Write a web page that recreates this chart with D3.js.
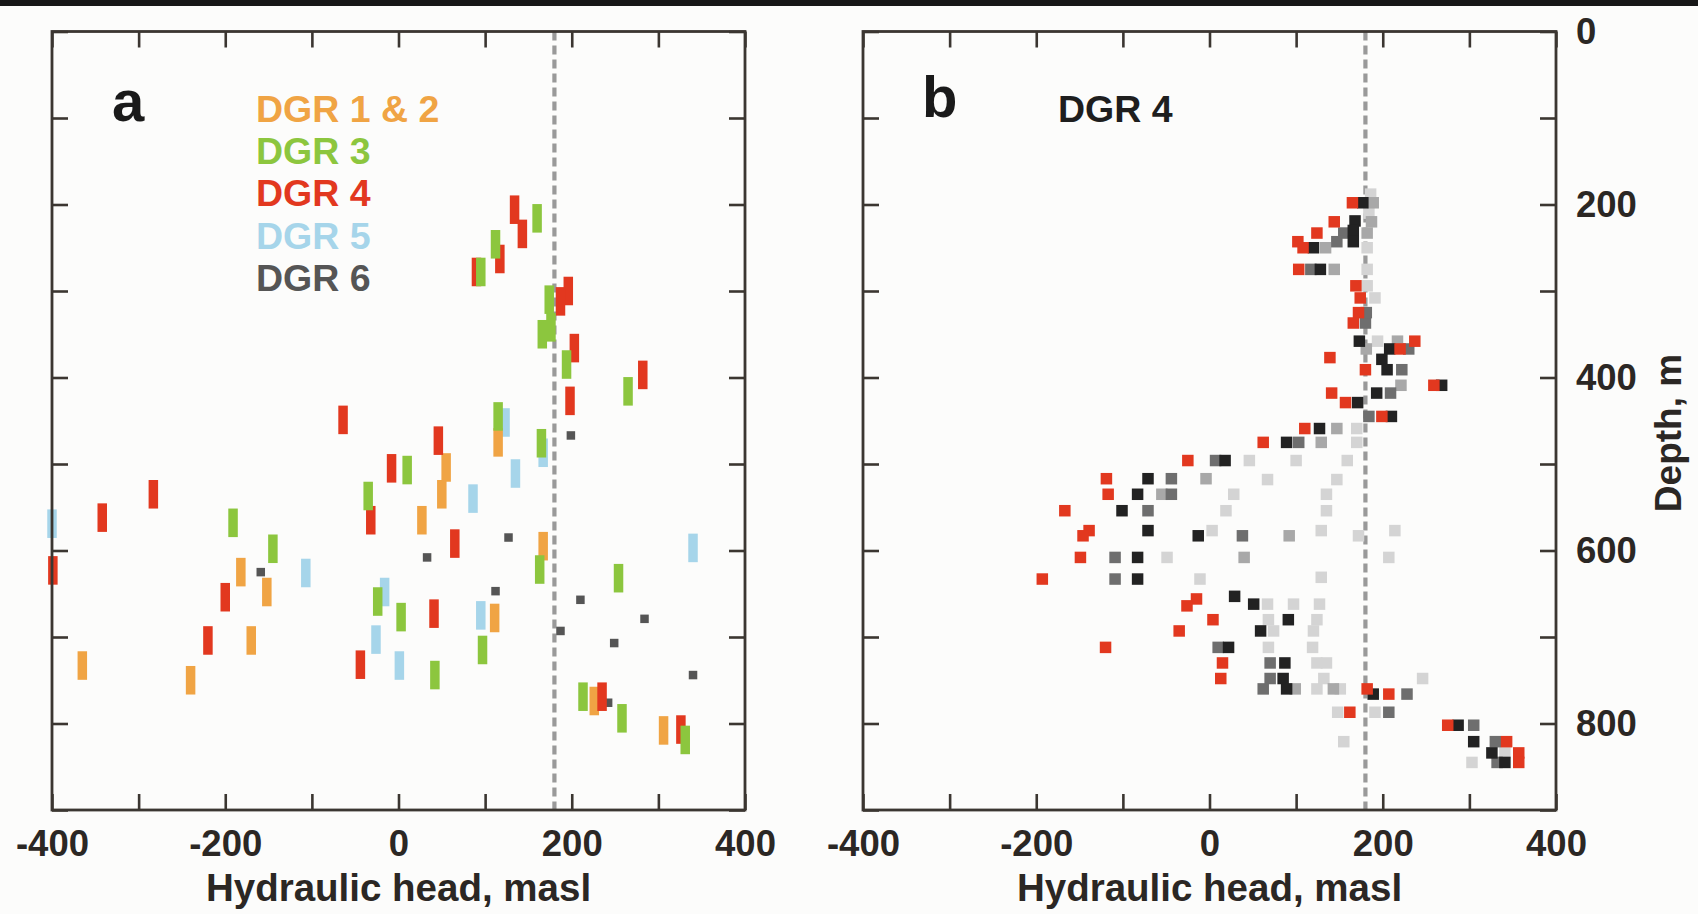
<!DOCTYPE html>
<html>
<head>
<meta charset="utf-8">
<script src="https://cdn.jsdelivr.net/npm/d3@7"></script>
<style>
  html, body { margin: 0; padding: 0; background: #fcfcfb; }
  svg { display: block; }
  text { font-family: "Liberation Sans", Arial, Helvetica, sans-serif; font-weight: bold; }
</style>
</head>
<body>
<svg id="chart" width="1698" height="914"></svg>
<script>
// ---- Panel a: packer test intervals, [hydraulic head (masl), depth (m)] ----
const dgr12 = [[-365,733],[-240,750],[-182,625],[-152,648],[-170,704],[27,565],[50,535],[55,504],
  [115,475],[111,678],[167,595],[226,774],[306,808]];
const dgr3 = [[160,216],[112,246],[95,278],[174,310],[166,350],[176,342],[194,385],[265,416],
  [115,445],[165,476],[10,507],[-35,537],[-191,568],[-145,598],[-24,659],[3,677],[97,715],
  [42,744],[163,622],[254,632],[213,769],[258,794],[331,819]];
const dgr4 = [[134,206],[143,234],[117,263],[90,278],[196,300],[187,312],[203,366],[282,397],
  [198,427],[-64,449],[46,473],[-8,505],[-283,535],[-342,562],[-32,565],[65,592],[-399,623],
  [-200,654],[41,673],[-220,704],[-44,732],[235,769],[326,807]];
const dgr5 = [[-400,569],[-107,626],[-16,648],[-26,703],[1,733],[95,675],[86,540],[135,511],
  [340,597],[123,452],[167,487]];
const dgr6 = [[199,467],[127,585],[33,608],[-159,625],[112,647],[210,657],[284,679],[187,693],
  [249,707],[340,744],[242,776]];

// ---- Panel b: DGR 4 heads from successive monitoring snapshots ----
const b4Red = [[165,198],[144,220],[124,233],[102,243],[108,250],[103,275],[169,294],[174,308],
  [172,325],[166,337],[237,358],[220,367],[139,377],[180,391],[259,409],[141,418],[157,429],
  [199,445],[110,459],[62,475],[-25,496],[-119,517],[-117,535],[-167,554],[-139,577],[-146,583],
  [-149,608],[-193,633],[-15,656],[-26,664],[4,680],[-35,693],[-120,712],[15,730],[13,748],
  [182,760],[207,766],[162,787],[275,802],[343,821],[357,834],[357,845]];
const b4Black = [[177,198],[168,219],[166,230],[166,243],[120,250],[128,275],[173,358],[208,367],
  [199,379],[205,391],[268,409],[193,418],[171,429],[210,445],[127,459],[89,475],[18,496],
  [-71,517],[-83,535],[-101,554],[-71,577],[-13,583],[-83,608],[-83,633],[29,653],[51,662],
  [91,680],[59,693],[22,712],[87,730],[85,748],[89,760],[189,766],[287,802],[305,821],[326,834],
  [341,845]];
const b4Dark = [[155,233],[147,243],[117,275],[180,337],[230,367],[222,391],[209,418],[184,445],
  [7,496],[-44,517],[-44,535],[-71,554],[38,583],[-109,608],[-109,633],[10,712],[70,730],
  [70,748],[62,760],[228,766],[207,787],[305,802],[330,821],[332,845],[181,325],[103,475]];
const b4Light = [[189,198],[187,220],[134,250],[144,275],[217,358],[181,367],[221,409],[147,459],
  [129,475],[-55,535],[-4,517],[92,583],[143,760],[99,760],[182,233],[40,608]];
const b4Pale = [[182,250],[182,275],[182,294],[191,308],[194,358],[170,459],[170,475],[46,496],
  [100,496],[159,496],[67,518],[147,518],[28,535],[135,535],[19,554],[135,554],[3,577],[129,577],
  [172,583],[214,577],[-49,608],[207,608],[-11,633],[129,631],[67,662],[97,662],[127,662],
  [68,680],[124,680],[74,693],[120,693],[68,712],[119,712],[124,730],[135,730],[132,748],
  [246,748],[124,760],[151,760],[148,787],[191,787],[155,821],[303,845],[341,834],[186,188],[184,210]];

// Axis settings
const headDomain = [-400, 400];
const depthDomain = [0, 900];
const headTicks = [-400, -300, -200, -100, 0, 100, 200, 300, 400];
const depthTicks = [0, 100, 200, 300, 400, 500, 600, 700, 800, 900];
const refHead = 180;   // reference head (dashed line)

const legendItems = [
  { label: "DGR 1 & 2", color: "#F0A444" },
  { label: "DGR 3", color: "#8CC63E" },
  { label: "DGR 4", color: "#E2381F" },
  { label: "DGR 5", color: "#A6D5EA" },
  { label: "DGR 6", color: "#555555" }
];

const svg = d3.select("#chart");
const W = 1698, H = 914;
const axisColor = "#3b3631";

svg.append("rect").attr("x", 0).attr("y", 0).attr("width", W).attr("height", H).attr("fill", "#fcfcfb");
svg.append("rect").attr("x", 0).attr("y", 0).attr("width", W).attr("height", 6).attr("fill", "#171717");

const plotTop = 31.5, plotBottom = 810;
const y = d3.scaleLinear().domain(depthDomain).range([plotTop, plotBottom]);
const xA = d3.scaleLinear().domain(headDomain).range([52, 745]);
const xB = d3.scaleLinear().domain(headDomain).range([863, 1556]);

const fmtHead = d => (d % 200 === 0 ? String(d) : "");

function refLine(g, x) {
  // dashed reference head
  g.append("line")
    .attr("x1", x(refHead)).attr("x2", x(refHead))
    .attr("y1", plotTop).attr("y2", plotBottom)
    .attr("stroke", "#999999").attr("stroke-width", 4.2)
    .attr("stroke-dasharray", "9,5");
}

function axes(g, x, rightLabels) {
  const tick = 16;
  const bx = g.append("g").attr("transform", `translate(0,${plotBottom})`)
    .call(d3.axisBottom(x).tickValues(headTicks).tickSize(-tick).tickPadding(20).tickFormat(fmtHead));
  const tx = g.append("g").attr("transform", `translate(0,${plotTop})`)
    .call(d3.axisTop(x).tickValues(headTicks).tickSize(-tick).tickFormat(""));
  const ly = g.append("g").attr("transform", `translate(${x.range()[0]},0)`)
    .call(d3.axisLeft(y).tickValues(depthTicks).tickSize(-tick).tickFormat(""));
  const ry = g.append("g").attr("transform", `translate(${x.range()[1]},0)`)
    .call(d3.axisRight(y).tickValues(depthTicks).tickSize(-tick).tickPadding(20)
      .tickFormat(d => (rightLabels && d % 200 === 0 && d < 900 ? String(d) : "")));
  [bx, tx, ly, ry].forEach(a => {
    a.select(".domain").remove();
    a.selectAll(".tick line").attr("stroke", axisColor).attr("stroke-width", 2.6);
    a.selectAll(".tick text").attr("fill", "#2b2724").attr("font-size", 36.5)
      .attr("font-family", "'Liberation Sans', Arial, sans-serif").attr("font-weight", "bold");
  });
  g.append("rect")
    .attr("x", x.range()[0]).attr("y", plotTop)
    .attr("width", x.range()[1] - x.range()[0]).attr("height", plotBottom - plotTop)
    .attr("fill", "none").attr("stroke", axisColor).attr("stroke-width", 2.8);
  g.append("text")
    .attr("x", (x.range()[0] + x.range()[1]) / 2).attr("y", 901)
    .attr("text-anchor", "middle").attr("font-size", 38.5).attr("fill", "#2b2724")
    .text("Hydraulic head, masl");
}

// ---------------- Panel a ----------------
const gA = svg.append("g");
refLine(gA, xA);

const intervalLen = 33;   // m, vertical extent of a test interval marker
const barW = 9.5;
function bars(data, color) {
  gA.append("g").selectAll("rect").data(data).join("rect")
    .attr("x", d => xA(d[0]) - barW / 2)
    .attr("y", d => y(d[1] - intervalLen / 2))
    .attr("width", barW)
    .attr("height", d => y(d[1] + intervalLen / 2) - y(d[1] - intervalLen / 2))
    .attr("fill", color);
}
const sqA = 8.5;
gA.append("g").selectAll("rect").data(dgr6).join("rect")
  .attr("x", d => xA(d[0]) - sqA / 2).attr("y", d => y(d[1]) - sqA / 2)
  .attr("width", sqA).attr("height", sqA).attr("fill", legendItems[4].color);
bars(dgr5, legendItems[3].color);
bars(dgr12, legendItems[0].color);
bars(dgr4, legendItems[2].color);
bars(dgr3, legendItems[1].color);

axes(gA, xA, false);

gA.append("text").attr("x", 112).attr("y", 121).attr("font-size", 58).attr("fill", "#1a1a1a").text("a");
gA.append("g").selectAll("text").data(legendItems).join("text")
  .attr("x", 256).attr("y", (d, i) => 122 + i * 42.2)
  .attr("font-size", 37.5).attr("fill", d => d.color)
  .text(d => d.label);

// ---------------- Panel b ----------------
const gB = svg.append("g");
refLine(gB, xB);
const sqB = 11.5;
function squares(data, color) {
  gB.append("g").selectAll("rect").data(data).join("rect")
    .attr("x", d => xB(d[0]) - sqB / 2).attr("y", d => y(d[1]) - sqB / 2)
    .attr("width", sqB).attr("height", sqB).attr("fill", color);
}
squares(b4Pale, "#d4d4d4");
squares(b4Light, "#a8a8a8");
squares(b4Dark, "#6e6e6e");
squares(b4Black, "#222222");
squares(b4Red, "#E2381F");

axes(gB, xB, true);

gB.append("text").attr("x", 922).attr("y", 117).attr("font-size", 58).attr("fill", "#1a1a1a").text("b");
gB.append("text").attr("x", 1058).attr("y", 122).attr("font-size", 37.5).attr("fill", "#1e1e1e").text("DGR 4");

svg.append("text")
  .attr("transform", "translate(1681,433) rotate(-90)")
  .attr("text-anchor", "middle").attr("font-size", 37).attr("fill", "#2b2724")
  .text("Depth, m");
</script>
</body>
</html>
